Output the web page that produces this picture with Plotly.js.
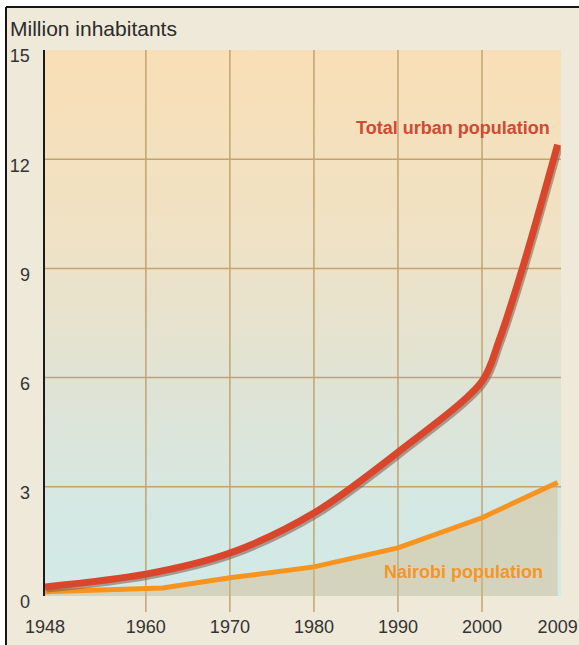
<!DOCTYPE html>
<html>
<head>
<meta charset="utf-8">
<script src="https://cdn.plot.ly/plotly-3.0.1.min.js"></script>
<style>
  html, body { margin: 0; padding: 0; background: #ffffff; }
  #chart { width: 579px; height: 645px; }
</style>
</head>
<body>
<div id="chart"></div>
<script>
// Kenya: urban population growth, in million inhabitants
const urbanYears = [1948, 1960, 1970, 1980, 1990, 2000, 2002, 2005, 2009];
const urbanPop   = [0.25, 0.6, 1.18, 2.28, 3.95, 5.9, 7.0, 9.15, 12.4];

const nairobiYears = [1948, 1962, 1970, 1980, 1990, 2000, 2009];
const nairobiPop   = [0.12, 0.22, 0.5, 0.8, 1.32, 2.15, 3.12];

const tickYears  = [1948, 1960, 1970, 1980, 1990, 2000, 2009];
const tickLabels = ['1948', '1960', '1970', '1980', '1990', '2000', '2009'];
const gridYears  = [1960, 1970, 1980, 1990, 2000];
const popTicks   = [0, 3, 6, 9, 12, 15];
const popGrid    = [3, 6, 9, 12];

const W = 579, H = 645;
const M = { l: 45, r: 18, t: 50, b: 49 };
const plotW = W - M.l - M.r, plotH = H - M.t - M.b;
const xRange = [1948, 2009.4];
const yRange = [0, 15];

// pixel -> paper helpers for the frame decoration
const px = v => (v - M.l) / plotW;
const py = v => (H - M.b - v) / plotH;

// shadow offset (pixels) expressed in axis units
const shX = 1.6 * (xRange[1] - xRange[0]) / plotW;
const shY = 2.2 * (yRange[1] - yRange[0]) / plotH;

const FONT = '"Liberation Sans", Arial, Helvetica, sans-serif';
const GRID = '#c2a470';

// vertical background wash: warm at the top, pale blue near the base
const bgSvg = '<svg xmlns="http://www.w3.org/2000/svg" width="100" height="100" preserveAspectRatio="none">' +
  '<defs><linearGradient id="g" x1="0" y1="0" x2="0" y2="1">' +
  '<stop offset="0" stop-color="#f9dfb6"/>' +
  '<stop offset="0.35" stop-color="#efe2c5"/>' +
  '<stop offset="0.62" stop-color="#dfe3d5"/>' +
  '<stop offset="0.85" stop-color="#d4e8e3"/>' +
  '<stop offset="1" stop-color="#d2eae8"/>' +
  '</linearGradient></defs><rect width="100" height="100" fill="url(#g)"/></svg>';
const bgUri = 'data:image/svg+xml;charset=utf-8,' + encodeURIComponent(bgSvg);

const traces = [
  {
    x: nairobiYears, y: nairobiPop, type: 'scatter', mode: 'lines',
    xaxis: 'x', yaxis: 'y',
    line: { color: '#f7941f', width: 5 },
    fill: 'tozeroy', fillcolor: 'rgba(214,182,132,0.42)',
    hoverinfo: 'skip', showlegend: false
  },
  {
    // soft drop shadow under the urban curve
    x: urbanYears, y: urbanPop, type: 'scatter', mode: 'lines',
    xaxis: 'x2', yaxis: 'y2',
    line: { color: 'rgba(120,90,80,0.55)', width: 7, shape: 'spline', smoothing: 0.9 },
    hoverinfo: 'skip', showlegend: false
  },
  {
    x: urbanYears, y: urbanPop, type: 'scatter', mode: 'lines',
    xaxis: 'x3', yaxis: 'y3',
    line: { color: '#d9462b', width: 7, shape: 'spline', smoothing: 0.9 },
    hoverinfo: 'skip', showlegend: false
  }
];

const hiddenAxis = (range) => ({
  range: range, visible: false, showgrid: false, zeroline: false, fixedrange: true
});

// grid: vertical lines run a little below the plot as tick marks
const gridShapes = [];
gridYears.forEach(yr => gridShapes.push({
  type: 'line', layer: 'below', xref: 'x', yref: 'paper',
  x0: yr, x1: yr, y0: -16 / plotH, y1: 1,
  line: { color: GRID, width: 1.5 }
}));
popGrid.forEach(v => gridShapes.push({
  type: 'line', layer: 'below', xref: 'paper', yref: 'y',
  x0: 0, x1: 1, y0: v, y1: v,
  line: { color: GRID, width: 1.5 }
}));

const frameShapes = [
  // white margin outside the frame
  { type: 'rect', xref: 'paper', yref: 'paper', layer: 'above',
    x0: px(0), x1: px(6), y0: py(H), y1: py(0),
    fillcolor: '#ffffff', line: { width: 0 } },
  { type: 'rect', xref: 'paper', yref: 'paper', layer: 'above',
    x0: px(0), x1: px(W), y0: py(7), y1: py(0),
    fillcolor: '#ffffff', line: { width: 0 } },
  // dark frame edges
  { type: 'line', xref: 'paper', yref: 'paper', layer: 'above',
    x0: px(6), x1: px(6), y0: py(7), y1: py(H),
    line: { color: '#151515', width: 2 } },
  { type: 'line', xref: 'paper', yref: 'paper', layer: 'above',
    x0: px(6), x1: px(W), y0: py(7), y1: py(7),
    line: { color: '#151515', width: 2 } }
];

const layout = {
  width: W, height: H,
  margin: M,
  paper_bgcolor: '#efe9d9',
  plot_bgcolor: 'rgba(0,0,0,0)',
  font: { family: FONT, color: '#333333' },
  showlegend: false,
  title: {
    text: 'Million inhabitants',
    font: { family: FONT, size: 21, color: '#2b2b2b' },
    xref: 'container', yref: 'container',
    x: 10 / W, xanchor: 'left',
    y: 1 - 29 / H, yanchor: 'middle'
  },
  xaxis: {
    range: xRange,
    tickvals: tickYears, ticktext: tickLabels,
    showgrid: false, ticks: '',
    ticklabelstandoff: 18,
    tickfont: { family: FONT, size: 18, color: '#333333' },
    showline: false, zeroline: false, fixedrange: true
  },
  yaxis: {
    range: yRange,
    tickvals: popTicks,
    showgrid: false,
    ticks: '', ticklabelstandoff: 9, ticklabelshift: 6,
    tickfont: { family: FONT, size: 18, color: '#333333' },
    showline: true, linecolor: '#1c1c1c', linewidth: 2.5,
    zeroline: false, fixedrange: true
  },
  xaxis2: Object.assign(hiddenAxis([xRange[0] - shX, xRange[1] - shX]), { overlaying: 'x' }),
  yaxis2: Object.assign(hiddenAxis([yRange[0] + shY, yRange[1] + shY]), { overlaying: 'y' }),
  xaxis3: Object.assign(hiddenAxis(xRange), { overlaying: 'x' }),
  yaxis3: Object.assign(hiddenAxis(yRange), { overlaying: 'y' }),
  images: [{
    source: bgUri, xref: 'paper', yref: 'paper',
    x: 0, y: 1, sizex: 1, sizey: 1,
    xanchor: 'left', yanchor: 'top',
    sizing: 'stretch', layer: 'below'
  }],
  annotations: [
    {
      text: '<b>Total urban population</b>',
      xref: 'paper', yref: 'paper',
      x: px(552), y: py(128), xanchor: 'right', yanchor: 'middle',
      showarrow: false,
      font: { family: FONT, size: 18, color: '#d14a33' }
    },
    {
      text: '<b>Nairobi population</b>',
      xref: 'paper', yref: 'paper',
      x: px(545), y: py(572), xanchor: 'right', yanchor: 'middle',
      showarrow: false,
      font: { family: FONT, size: 18, color: '#f5962a' }
    }
  ],
  shapes: gridShapes.concat(frameShapes)
};

Plotly.newPlot('chart', traces, layout, { staticPlot: true, displayModeBar: false });
</script>
</body>
</html>
